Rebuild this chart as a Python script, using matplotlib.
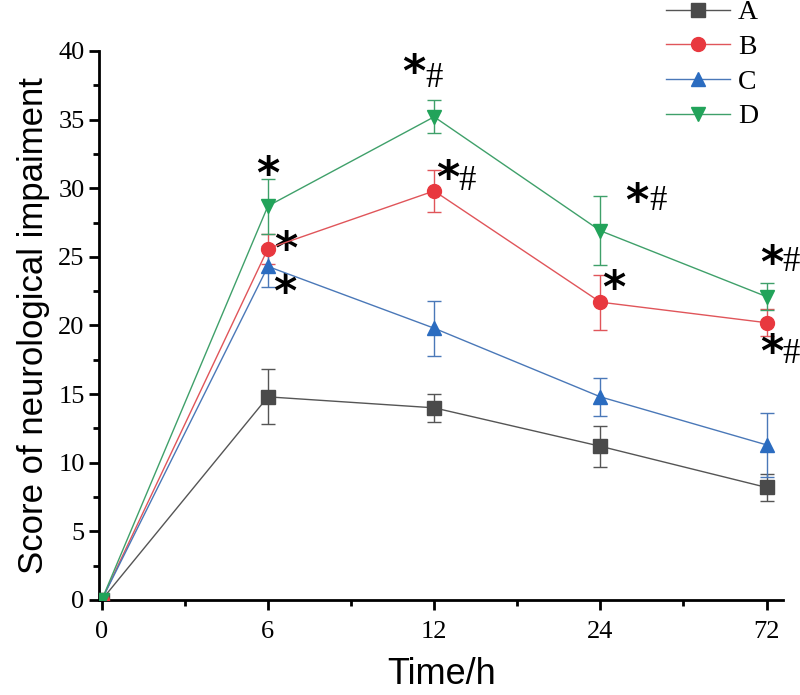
import matplotlib
matplotlib.use("Agg")
import matplotlib.pyplot as plt
from matplotlib.lines import Line2D
import numpy as np

times = ["0", "6", "12", "24", "72"]
groups = ["A", "B", "C", "D"]
A = [0, 14.8, 14.0, 11.2, 8.2]
A_err = [0, 2.0, 1.0, 1.5, 1.0]
B = [0, 25.6, 29.8, 21.7, 20.2]
B_err = [0, 1.1, 1.5, 2.0, 1.0]
C = [0, 24.3, 19.8, 14.8, 11.3]
C_err = [0, 1.5, 2.0, 1.4, 2.35]
D = [0, 28.7, 35.2, 26.9, 22.1]
D_err = [0, 2.0, 1.2, 2.5, 1.0]

colors = ["#4a4a4a", "#e8383f", "#2b6cc0", "#22a35a"]
line_colors = ["#555555", "#e0555a", "#4a78b8", "#3fa06a"]
markers = ["s", "o", "^", "v"]

# significance marks: (x index, y)
stars = [(1.0, 31.6), (1.11, 26.1), (1.10, 23.0), (1.88, 39.0), (2.08, 31.3),
         (3.22, 29.6), (3.08, 23.3), (4.03, 25.1), (4.03, 18.6)]
hashes = [(2.0, 38.0), (2.2, 30.5), (3.35, 29.0), (4.15, 24.6), (4.15, 17.9)]

fig = plt.figure(figsize=(8, 6.95), dpi=100)
ax = fig.add_axes([0.124, 0.1367, 0.855, 0.79])

x = np.arange(len(times))
handles = []
for vals, errs, c, lc, m, g in zip([A, B, C, D], [A_err, B_err, C_err, D_err],
                                   colors, line_colors, markers, groups):
    ax.errorbar(x, vals, yerr=errs, color=lc, ecolor=lc, elinewidth=1.0,
                capsize=5, capthick=1.0, lw=1.0, marker=m, markersize=10,
                markerfacecolor=c, markeredgecolor=c, zorder=3)
    handles.append(Line2D([], [], color=lc, lw=1.0, marker=m, markersize=10,
                          markerfacecolor=c, markeredgecolor=c, label=g))

star_offset = 0.65
for sx, sy in stars:
    ax.text(sx, sy - star_offset, "*", fontsize=32, fontweight="bold", family="DejaVu Sans",
            ha="center", va="center", color="black")
for hx, hy in hashes:
    ax.text(hx, hy, "#", fontsize=25, family="Liberation Serif",
            ha="center", va="center", color="black")

ax.set_xlim(-0.015, 4.1)
ax.set_ylim(0, 40)
ax.set_xticks(x)
ax.set_xticklabels(times)
ax.set_xticks(np.arange(0.5, 4, 1), minor=True)
ax.set_yticks(np.arange(0, 41, 5))
ax.set_yticks(np.arange(2.5, 40, 5), minor=True)
ax.spines["top"].set_visible(False)
ax.spines["right"].set_visible(False)
for s in ["left", "bottom"]:
    ax.spines[s].set_linewidth(2)
ax.tick_params(which="major", direction="out", length=7, width=2, labelsize=19)
ax.tick_params(which="minor", direction="out", length=4, width=2)
for lab in ax.get_xticklabels() + ax.get_yticklabels():
    lab.set_family("Liberation Serif")
ax.tick_params(axis="x", pad=8)

ax.set_xlabel("Time/h", fontsize=26, family="Liberation Sans", labelpad=10)
ax.set_ylabel("Score of neurological impaiment", fontsize=25, family="Liberation Sans", labelpad=6)

fig.legend(handles=handles, loc="upper left", bbox_to_anchor=(0.815, 1.02),
           bbox_transform=fig.transFigure, frameon=False, borderpad=0,
           prop={"family": "Liberation Serif", "size": 20}, handlelength=2.3,
           labelspacing=0.33, handletextpad=0.3)

fig.savefig("out.png", dpi=100)
